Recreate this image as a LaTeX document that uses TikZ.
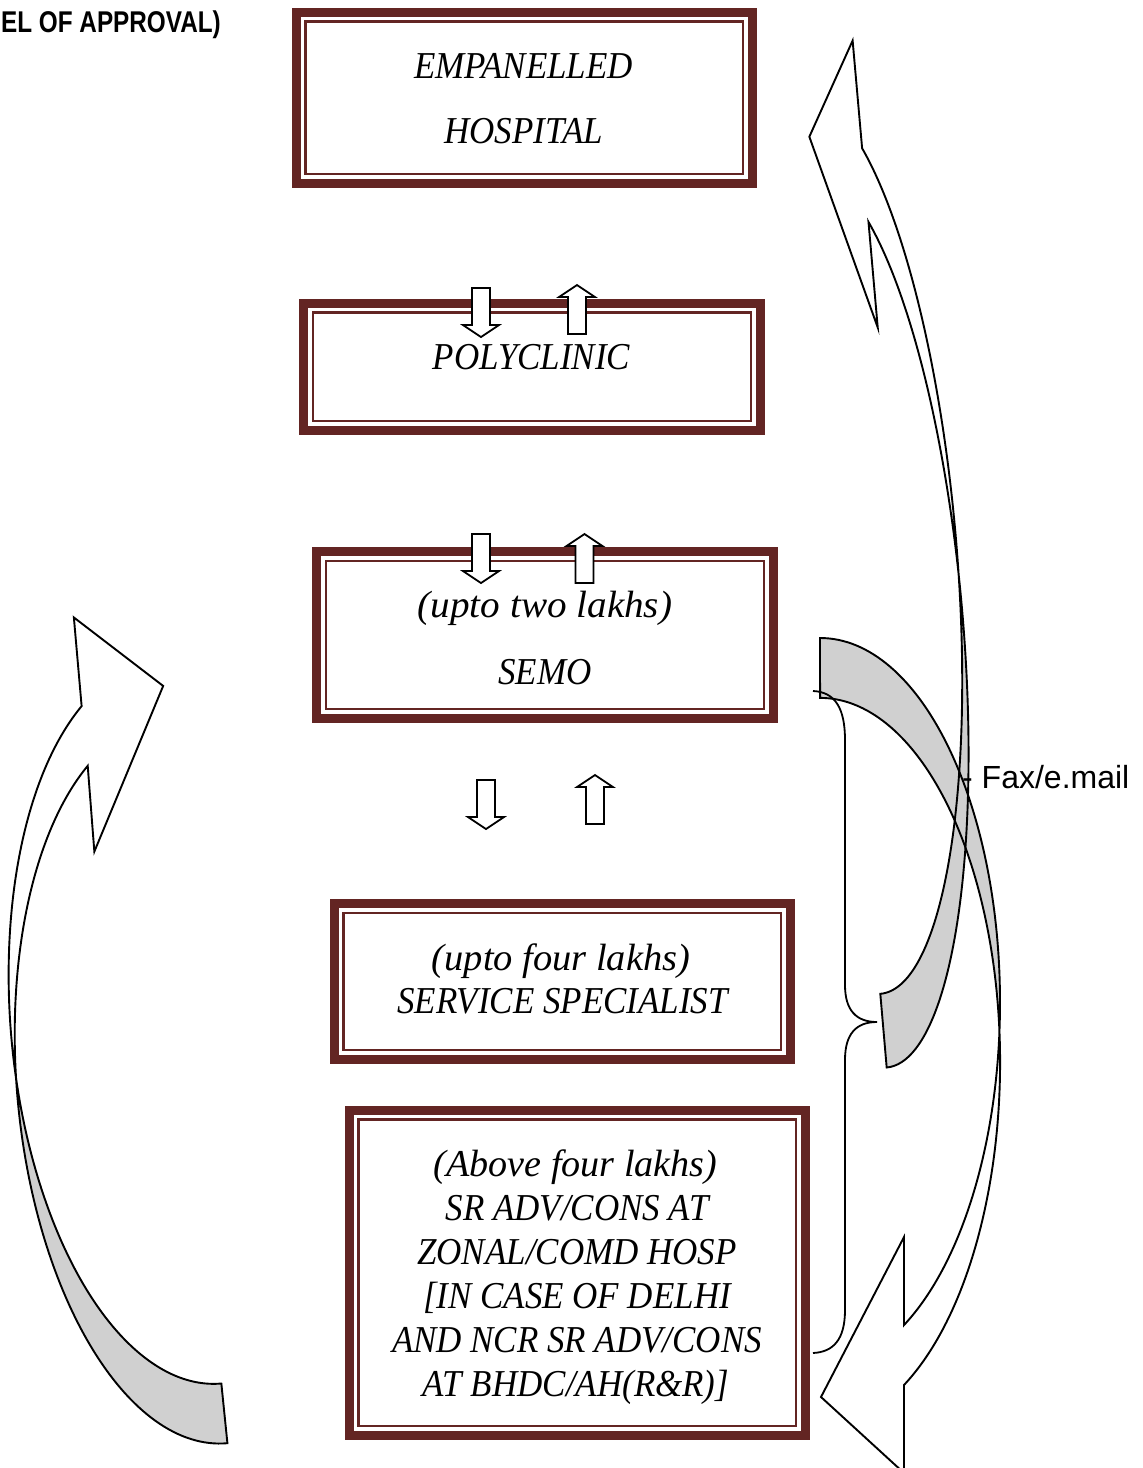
\documentclass[tikz,border=0pt]{standalone}
\usepackage{fontspec}
\usepackage{graphicx}
\setmainfont{Liberation Serif}
\newfontfamily\boxfont{Liberation Serif}[FakeStretch=0.92]
\newfontfamily\sansfont{Liberation Sans}
\definecolor{maroon}{RGB}{99,37,35}
\definecolor{backgray}{RGB}{208,208,208}
\begin{document}
\begin{tikzpicture}[x=1pt,y=-1pt,
  apbox/.style={draw=maroon, line width=9pt, inner sep=0pt,
    path picture={\draw[maroon, line width=2.7pt]
      ([shift={(9.5,9.5)}]path picture bounding box.north west) rectangle
      ([shift={(-9.5,-9.5)}]path picture bounding box.south east);}},
  boxtext/.style={font=\boxfont\itshape\fontsize{38}{44}\selectfont, inner sep=0pt, anchor=base},
  blockarrow/.style={draw=black, fill=white, line width=1.8pt, line join=miter},
  curveline/.style={draw=black, line width=1.9pt, line join=miter},
  backside/.style={fill=backgray},
  dnarrow/.pic={\draw[blockarrow] (-9,0) -- (9,0) -- (9,37) -- (18,37) -- (0,49) -- (-18,37) -- (-9,37) -- cycle;},
  uparrow/.pic={\draw[blockarrow] (-9,49) -- (9,49) -- (9,12) -- (18,12) -- (0,0) -- (-18,12) -- (-9,12) -- cycle;}
]
\useasboundingbox (0,0) rectangle (1143,1468);
\fill[white] (0,0) rectangle (1143,1468);

% ---- curved arrow paths ----
\def\pathL{(191,1451) arc[start angle=90,end angle=243.4,x radius=179,y radius=362.7] -- (110,850) -- (193,691) -- (110,615) -- (110,704) arc[start angle=243.4,end angle=90,x radius=179,y radius=362.7] -- cycle}
\def\grayL{(12,1028.3) arc[start angle=180,end angle=90,x radius=179,y radius=362.7] -- (191,1451) arc[start angle=90,end angle=180,x radius=179,y radius=362.7] -- cycle}
\def\pathTR{(846,992) arc[start angle=90,end angle=-61.1,x radius=115,y radius=450] -- (901.5,40) -- (850,132) -- (901.5,328) -- (901.5,222) arc[start angle=-61.1,end angle=90,x radius=115,y radius=450] -- cycle}
\def\grayTR{(961,542) arc[start angle=0,end angle=90,x radius=115,y radius=450] -- (846,1066) arc[start angle=90,end angle=0,x radius=115,y radius=450] -- cycle}
\def\pathBR{(820,638) arc[start angle=-90,end angle=62.2,x radius=180,y radius=364.6] -- (904,1237) -- (821,1397) -- (904,1473) -- (904,1385) arc[start angle=62.2,end angle=-90,x radius=180,y radius=364.6] -- cycle}
\def\grayBR{(820,638) arc[start angle=-90,end angle=0,x radius=180,y radius=364.6] -- (1000,1062.6) arc[start angle=0,end angle=-90,x radius=180,y radius=364.6] -- cycle}

% white faces
\begin{scope}[rotate around={5:(120,1030)}] \fill[white] \pathL; \end{scope}
\begin{scope}[rotate around={5:(884,600)}] \fill[white] \pathTR; \end{scope}
\fill[white] \pathBR;
% back sides
\begin{scope}[rotate around={5:(120,1030)}] \fill[backside] \grayL; \end{scope}
\begin{scope}[rotate around={5:(884,600)}] \fill[backside] \grayTR; \end{scope}
\fill[backside] \grayBR;
% outlines
\begin{scope}[rotate around={5:(120,1030)}] \draw[curveline] \pathL; \end{scope}
\begin{scope}[rotate around={5:(884,600)}] \draw[curveline] \pathTR; \end{scope}
\draw[curveline] \pathBR;

% ---- boxes ----
\node[apbox, minimum width=456.5, minimum height=171.5] (b1) at (524.25,97.75) {};
\node[apbox, minimum width=457, minimum height=127.5] (b2) at (532,366.75) {};
\node[apbox, minimum width=457, minimum height=167] (b3) at (545,635) {};
\node[apbox, minimum width=456.5, minimum height=156] (b4) at (562.25,981.5) {};
\node[apbox, minimum width=456.5, minimum height=325.5] (b5) at (577.25,1272.75) {};

% ---- box texts ----
\node[boxtext] (t1a) at (523.5,78) {EMPANELLED};
\node[boxtext] (t1b) at (523.5,143) {HOSPITAL};
\node[boxtext] (t2a) at (531.5,369) {POLYCLINIC};
\node[boxtext] (t3a) at (545,617) {\scalebox{1.12}[1]{(upto two lakhs)}};
\node[boxtext] (t3b) at (545,684) {SEMO};
\node[boxtext] (t4a) at (561,970) {\scalebox{1.1}[1]{(upto four lakhs)}};
\node[boxtext] (t4b) at (562.5,1013) {SERVICE SPECIALIST};
\node[boxtext] (t5a) at (575.5,1176) {\scalebox{1.09}[1]{(Above four lakhs)}};
\node[boxtext] (t5b) at (577,1220) {SR ADV/CONS AT};
\node[boxtext] (t5c) at (577,1264) {ZONAL/COMD HOSP};
\node[boxtext] (t5d) at (577,1308) {[IN CASE OF DELHI};
\node[boxtext] (t5e) at (577,1352) {AND NCR SR ADV/CONS};
\node[boxtext] (t5f) at (576,1396) {AT BHDC/AH(R\&R)]};

% ---- small block arrows ----
\pic at (481,288) {dnarrow};
\pic at (577,285) {uparrow};
\pic at (481,534) {dnarrow};
\pic at (584.5,534) {uparrow};
\pic at (486,780) {dnarrow};
\pic at (595,775) {uparrow};

% ---- brace ----
\coordinate (brtop) at (813,691);
\coordinate (brtip) at (877,1022);
\coordinate (brbot) at (813,1353);
\draw[line width=1.8pt] (brtop) .. controls (835,692) and (845,708) .. (845,740) -- (845,985)
  .. controls (845,1010) and (856,1022) .. (brtip)
  .. controls (856,1022) and (845,1034) .. (845,1060) -- (845,1310)
  .. controls (845,1340) and (833,1352) .. (brbot);

% ---- labels ----
\node[anchor=base west, inner sep=0pt, font=\sansfont\fontsize{32}{38}\selectfont] (fax) at (962,788) {- Fax/e.mail};
\node[anchor=base west, inner sep=0pt, font=\sansfont\bfseries\fontsize{30}{36}\selectfont] (title) at (1,32) {\scalebox{0.81}[1]{EL OF APPROVAL)}};
\end{tikzpicture}
\end{document}
